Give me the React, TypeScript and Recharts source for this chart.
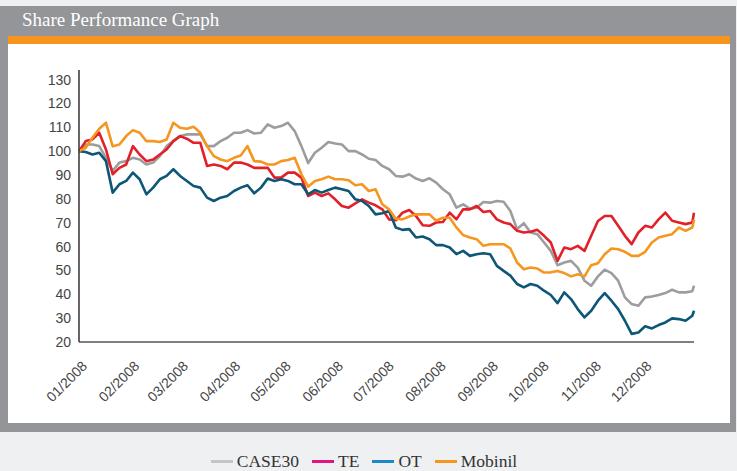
import React from 'react';
import { LineChart, Line, XAxis, YAxis } from 'recharts';

const days = [0,4,8,12,16,20,24,28,32,36,40,44,48,52,56,60,64,68,72,76,80,84,88,92,96,100,104,108,112,116,120,124,128,132,136,140,144,148,152,156,160,164,168,172,176,180,184,188,192,196,200,204,208,212,216,220,224,228,232,236,240,244,248,252,256,260,264,268,272,276,280,284,288,292,296,300,304,308,312,316,320,324,328,332,336,340,344,348,352,356,360,364,365];

const case30 = [100,102.8,102.8,102.1,97.2,91.7,95.2,95.8,97.2,96.5,94.4,95.2,97.9,102.1,104.2,106.3,107,107,107,102.1,102.1,104.2,105.6,107.7,107.7,108.8,107.4,107.7,111.2,109.8,110.5,111.9,108.4,102.1,95,99.3,101.4,103.8,103.2,102.8,100,100,98.6,96.8,96.3,93.8,92.4,89.6,89.3,90.3,88.5,87.5,88.6,86.8,84,81.9,76.3,77.7,75.9,76.3,78.7,78.4,79.1,78.8,74.9,67.3,69.8,65.9,65.2,61.7,58.2,52.2,53.3,54,51.2,45.7,43.6,47.5,50.3,48.9,45.7,38.7,35.9,35.2,38.7,39.1,39.7,40.5,41.9,40.8,40.8,41.3,43.6];

const te = [100,104.2,104.9,107.7,100.7,90.3,93,94.4,102.1,98.6,95.8,96.5,98.6,100.7,104.2,106.3,105.2,103.5,103.5,93.8,94.4,93.8,92.4,95.2,95.2,94.4,93,93,93,88.9,88.9,91,91,88.9,81.2,82.6,81.2,82.3,79.8,77,76.3,78.1,79.8,78.4,77.3,75.6,71.4,71,74.2,75.3,72.8,68.9,68.7,70.1,70.3,74.2,71.4,75.6,75.6,77,74.5,74.9,71.4,70.1,69.4,66.6,65.9,66.2,67,64.5,61.7,54,59.6,58.9,60.3,58.2,64.5,70.7,72.8,72.8,68.7,64.5,61,65.9,68.7,68,71.4,74.2,70.8,70.1,69.4,70.1,74.2];

const ot = [100,99.6,98.6,99.3,95.8,82.6,86.1,87.5,91,88.2,81.9,84.7,88.2,89.6,92.4,89.6,87.5,85.4,84.7,80.5,79.1,80.5,81.2,83.3,84.7,85.7,82.3,84.7,88.5,87.5,88.2,87.5,86.1,86.1,81.9,83.7,82.6,83.7,84.7,84,83.3,79.8,79.1,77,73.5,74,74.9,68,67,67.3,63.8,64.2,63.1,60.6,60.6,59.6,56.8,58.2,56.1,56.8,57.2,56.8,51.9,49.8,47.8,44.3,42.9,44.3,43.6,41.5,39.7,36.3,40.8,38,33.8,30.3,33.1,37.3,40.5,37.3,33.8,28.9,23.4,24,26.6,25.7,27.1,28.2,29.9,29.6,28.9,31,33.1];

const mobinil = [100,101.4,105.6,109.4,111.9,102,102.8,106.3,108.8,107.7,104.2,104.2,103.8,104.9,111.9,109.8,109.4,110.2,107.7,102.1,97.9,96.5,95.8,97.2,98.2,102.1,95.8,95.6,94.4,94.4,95.8,96.3,97.2,90.3,85.1,87.5,88.2,89.3,88.2,88.2,87.8,85.7,86.1,83.3,84,77.7,75.6,71.7,71.4,72.6,73.5,73.5,73.5,70.8,72.1,72.1,68,64.8,63.8,63.1,60.3,61,61,61,59.2,53.3,50.5,51.2,50.8,49.1,49.2,49.8,48.9,47.5,48.4,47.5,52.2,53,56.8,59.2,58.9,57.8,56.1,56.1,57.8,61.7,63.8,64.5,65.2,68,66.6,68,71.2];

const monthTicks = [0,31,60,91,121,152,182,213,244,274,305,335];
const monthLabels = ['01/2008','02/2008','03/2008','04/2008','05/2008','06/2008','07/2008','08/2008','09/2008','10/2008','11/2008','12/2008'];
const yTicks = [20,30,40,50,60,70,80,90,100,110,120,130];

const seriesNames = ['CASE30','TE','OT','Mobinil'];
const lineColors = ['#9d9d9f','#e2202a','#0c5677','#f7961f'];
const legendColors = ['#c4c4c6','#e0157f','#1a8bc7','#f7961f'];

const data = days.map((d, i) => ({
  day: d,
  CASE30: case30[i],
  TE: te[i],
  OT: ot[i],
  Mobinil: mobinil[i],
}));

const XTick = (props: any) => {
  const { x, y, payload } = props;
  const idx = monthTicks.indexOf(payload.value);
  const px = x + 9;
  const py = y + 17;
  return (
    <text x={px} y={py} transform={`rotate(-45, ${px}, ${py})`} textAnchor="end" fontSize={14} fill="#444" fontFamily="'Liberation Sans', Arial, sans-serif">
      {monthLabels[idx]}
    </text>
  );
};

export default function App() {
  return (
    <div style={{ position: 'absolute', left: 0, top: 0, width: 737, height: 471, background: '#eff0f2', overflow: 'hidden' }}>
      <div style={{ position: 'absolute', left: 0, top: 6, width: 736, height: 426, background: '#939598' }} />
      <div style={{ position: 'absolute', left: 22, top: 7, color: '#fff', fontFamily: "'Liberation Serif', 'Times New Roman', serif", fontSize: 19, lineHeight: '26px', whiteSpace: 'nowrap' }}>Share Performance Graph</div>
      <div style={{ position: 'absolute', left: 8, top: 36, width: 722, height: 8, background: '#f7941d' }} />
      <div style={{ position: 'absolute', left: 8, top: 44, width: 722, height: 379, background: '#ffffff' }} />
      <div style={{ position: 'absolute', left: 0, top: 0 }}>
        <LineChart width={737} height={471} data={data} margin={{ top: 70, right: 43, bottom: 69, left: 39 }}>
          <XAxis
            dataKey="day"
            type="number"
            domain={[0, 365]}
            ticks={monthTicks}
            interval={0}
            tick={<XTick />}
            tickLine={false}
            axisLine={{ stroke: '#555', strokeWidth: 1.5 }}
            height={60}
          />
          <YAxis
            type="number"
            domain={[20, 134]}
            ticks={yTicks}
            interval={0}
            tickLine={false}
            axisLine={{ stroke: '#333', strokeWidth: 1.5 }}
            width={40}
            tick={{ fontSize: 14, fill: '#444', fontFamily: "'Liberation Sans', Arial, sans-serif" }}
          />
          {seriesNames.map((name, i) => (
            <Line key={name} type="linear" dataKey={name} stroke={lineColors[i]} strokeWidth={2.6} dot={false} isAnimationActive={false} strokeLinejoin="round" />
          ))}
        </LineChart>
      </div>
      <div style={{ position: 'absolute', left: 0, top: 451, width: 728, display: 'flex', justifyContent: 'center', alignItems: 'center', gap: 13, fontFamily: "'Liberation Serif', 'Times New Roman', serif", fontSize: 17.5, color: '#333' }}>
        {seriesNames.map((name, i) => (
          <div key={name} style={{ display: 'flex', alignItems: 'center' }}>
            <div style={{ width: 22, height: 3, background: legendColors[i], marginRight: 4 }} />
            <span>{name}</span>
          </div>
        ))}
      </div>
    </div>
  );
}
